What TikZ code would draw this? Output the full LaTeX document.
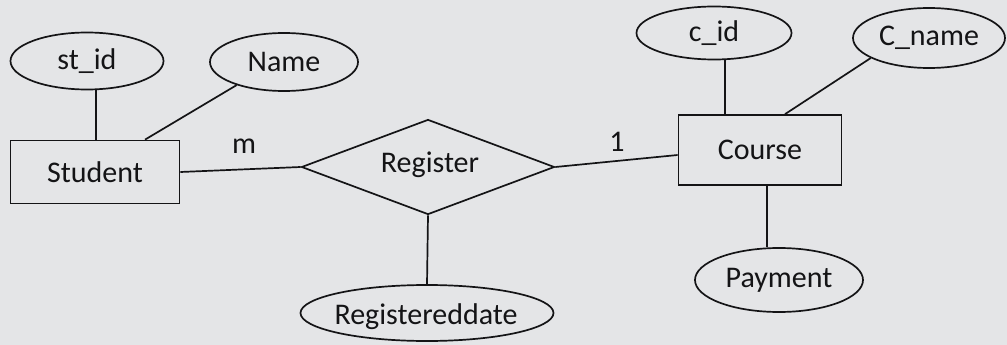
\documentclass[tikz,border=0pt]{standalone}
\usepackage{fontspec}
\setmainfont{Carlito}
\usetikzlibrary{shapes.geometric}
\definecolor{bgpaper}{RGB}{228,229,231}
\definecolor{ink}{RGB}{20,20,22}
\begin{document}
\begin{tikzpicture}[x=1pt,y=-1pt,
  every node/.style={font=\fontsize{30}{34}\selectfont, text=ink},
  attr/.style={ellipse, draw=ink, line width=1.7pt, inner sep=0pt},
  entity/.style={rectangle, draw=ink, line width=1.7pt, inner sep=0pt},
  rel/.style={diamond, draw=ink, line width=1.7pt, inner sep=0pt},
  conn/.style={draw=ink, line width=1.7pt},
  card/.style={inner sep=0pt}]
\fill[bgpaper] (0,0) rectangle (1007,345);
\useasboundingbox (0,0) rectangle (1007,345);

% entities
\node[entity, minimum width=169pt, minimum height=63pt] (student) at (95,172) {Student};
\node[entity, minimum width=163pt, minimum height=70pt] (course) at (760,150) {Course};

% relationship
\node[rel, minimum width=253pt, minimum height=95pt] (register) at (428,167) {};
\node[card] (registertext) at (430,165) {Register};

% attributes
\node[attr, minimum width=153pt, minimum height=57pt] (stid) at (87,61) {st\_id};
\node[attr, minimum width=148pt, minimum height=58pt] (name) at (284,62) {Name};
\node[attr, minimum width=155pt, minimum height=53pt] (cid) at (714,33) {c\_id};
\node[attr, minimum width=152pt, minimum height=60pt] (cname) at (929,38) {C\_name};
\node[attr, minimum width=168pt, minimum height=64pt] (payment) at (779,280) {Payment};
\node[attr, minimum width=253pt, minimum height=56pt] (regdate) at (427,313) {};
\node[card] (regdatetext) at (426,317) {Registereddate};

% cardinalities
\node[card] (m) at (244,146) {m};
\node[card] (one) at (617,142) {1};

% connectors
\coordinate (stidfoot) at ([xshift=9pt]stid.south);
\draw[conn] (stidfoot) -- (stidfoot |- student.north);
\draw[conn] (name.206) -- ([xshift=50pt]student.north);
\coordinate (cidfoot) at ([xshift=11pt]cid.south);
\draw[conn] (cidfoot) -- (cidfoot |- course.north);
\draw[conn] (cname.199) -- ([xshift=25pt]course.north);
\coordinate (payfoot) at ([xshift=7pt]course.south);
\draw[conn] (payfoot) -- (payfoot |- payment.north);
\draw[conn] (student.east) -- (register.west);
\draw[conn] (register.east) -- ([yshift=-5pt]course.west);
\draw[conn] (register.south) -- (regdate.north);
\end{tikzpicture}
\end{document}
